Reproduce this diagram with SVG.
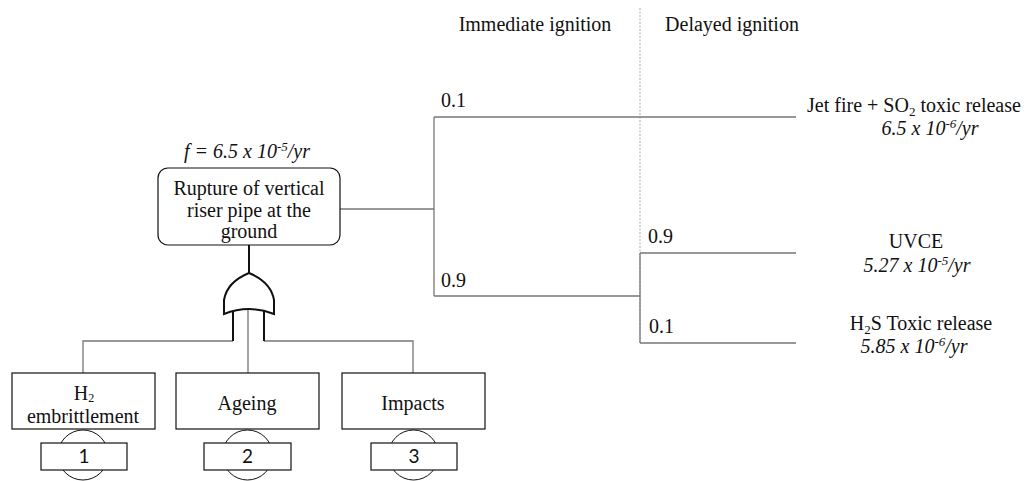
<svg xmlns="http://www.w3.org/2000/svg" width="1026" height="481" viewBox="0 0 1026 481">
<style>
.t{font-family:"Liberation Serif","Times New Roman",serif;font-size:20px;fill:#111}
.i{font-style:italic}
.c{text-anchor:middle}
.n{font-family:Lato,"Liberation Sans",sans-serif;font-size:19px;text-anchor:middle;fill:#111}
.box{fill:#fff;stroke:#111;stroke-width:1.2}
.ln{fill:none;stroke:#777;stroke-width:1.3}
.gate{fill:#fff;stroke:#111;stroke-width:2}
</style>
<rect width="1026" height="481" fill="#fff"/>
<g id="headers">
<text class="t c" x="535" y="31">Immediate ignition</text>
<text class="t c" x="732" y="31">Delayed ignition</text>
<line x1="640" y1="8" x2="640" y2="343" stroke="#aaa" stroke-width="1" stroke-dasharray="2,1.5"/>
</g>
<g id="connectors">
<path class="ln" d="M340,209 H434 M434,117 V296 M434,117 H796 M434,296 H640 M640,253 V343 M640,253 H796 M640,343 H796"/>
<path class="ln" d="M248,309 V373 M83,373 V341 H233 M264,341 H413 V373"/>
<path d="M249,245 V273" stroke="#111" stroke-width="2"/>
<path d="M233,311 V341 M264,311 V341" stroke="#111" stroke-width="2" fill="none"/>
</g>
<g id="or-gate">
<path class="gate" d="M224,314 L224,300 Q227,282 249,273 Q271,282 274,300 L274,314 Q249,304 224,314 Z"/>
</g>
<g id="top-event">
<text class="t i c" x="247" y="158">f = 6.5 x 10<tspan font-size="13" dy="-7">-5</tspan><tspan dy="7">/yr</tspan></text>
<rect class="box" x="158" y="168" width="182" height="77" rx="10"/>
<text class="t c" x="249" y="195">Rupture of vertical</text>
<text class="t c" x="249" y="217">riser pipe at the</text>
<text class="t c" x="249" y="238">ground</text>
</g>
<g id="probabilities">
<text class="t" x="441" y="107">0.1</text>
<text class="t" x="441" y="287">0.9</text>
<text class="t" x="648" y="243">0.9</text>
<text class="t" x="649" y="333">0.1</text>
</g>
<g id="outcome-jetfire">
<text class="t c" x="914" y="112">Jet fire + SO<tspan font-size="13" dy="4">2</tspan><tspan dy="-4"> toxic release</tspan></text>
<text class="t i c" x="930" y="135">6.5 x 10<tspan font-size="13" dy="-7">-6</tspan><tspan dy="7">/yr</tspan></text>
</g>
<g id="outcome-uvce">
<text class="t c" x="916" y="248">UVCE</text>
<text class="t i c" x="917" y="272">5.27 x 10<tspan font-size="13" dy="-7">-5</tspan><tspan dy="7">/yr</tspan></text>
</g>
<g id="outcome-h2s">
<text class="t c" x="921" y="330">H<tspan font-size="13" dy="4">2</tspan><tspan dy="-4">S Toxic release</tspan></text>
<text class="t i c" x="914" y="353">5.85 x 10<tspan font-size="13" dy="-7">-6</tspan><tspan dy="7">/yr</tspan></text>
</g>
<g id="event-h2">
<rect class="box" x="12" y="373" width="143" height="56"/>
<text class="t c" x="84" y="400">H<tspan font-size="12" dy="2">2</tspan></text>
<text class="t c" x="83" y="423">embrittlement</text>
<circle cx="83" cy="455" r="25" fill="#fff" stroke="#111" stroke-width="1"/>
<rect class="box" x="41" y="443" width="86" height="27"/>
<text class="n" x="84" y="463">1</text>
</g>
<g id="event-ageing">
<rect class="box" x="176" y="373" width="143" height="56"/>
<text class="t c" x="247" y="410">Ageing</text>
<circle cx="247.5" cy="455" r="25" fill="#fff" stroke="#111" stroke-width="1"/>
<rect class="box" x="204" y="443" width="87" height="27"/>
<text class="n" x="247.5" y="463">2</text>
</g>
<g id="event-impacts">
<rect class="box" x="342" y="373" width="143" height="56"/>
<text class="t c" x="413" y="410">Impacts</text>
<circle cx="413.5" cy="455" r="25" fill="#fff" stroke="#111" stroke-width="1"/>
<rect class="box" x="371" y="443" width="86" height="27"/>
<text class="n" x="414" y="463">3</text>
</g>
</svg>
